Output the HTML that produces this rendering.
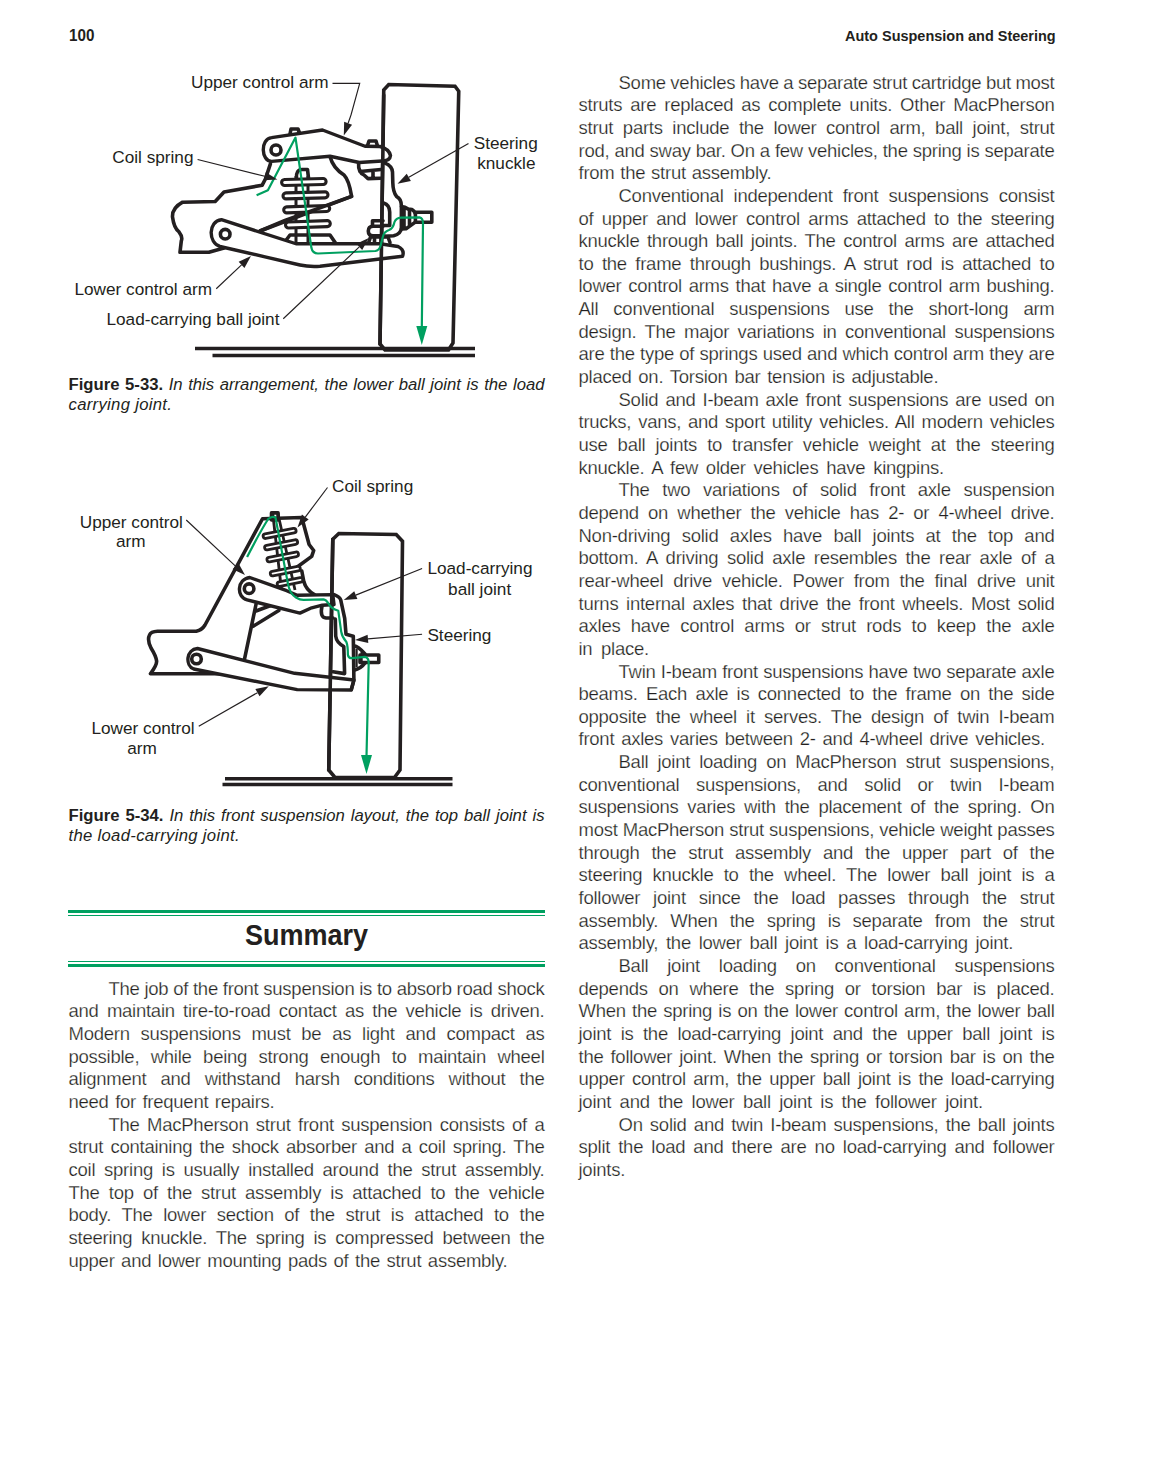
<!DOCTYPE html>
<html><head><meta charset="utf-8"><style>
html,body{margin:0;padding:0;background:#fff;}
body{width:1156px;height:1479px;position:relative;overflow:hidden;font-family:"Liberation Sans",sans-serif;color:#231f20;}
.ln{position:absolute;white-space:pre;font-size:18.5px;line-height:22.65px;letter-spacing:-0.25px;-webkit-text-stroke:0.25px #fff;}
.lab{position:absolute;white-space:pre;line-height:1;}
.cap2 i{letter-spacing:0.3px;}
.cap{position:absolute;white-space:pre;font-size:16.7px;line-height:20.8px;left:68.5px;width:476px;}
.hdr{position:absolute;font-weight:bold;white-space:pre;line-height:1;}
svg{position:absolute;left:0;top:0;}
.rule{position:absolute;left:68px;width:476.5px;background:#00a060;}
</style></head><body>
<div class="hdr" style="left:68.5px;top:28.35px;font-size:16px;transform-origin:0 0;transform:scaleX(0.95)">100</div>
<div class="hdr" style="left:845.3px;top:27.59px;font-size:15px;transform-origin:0 0;transform:scaleX(0.965)">Auto Suspension and Steering</div>
<svg width="1156" height="1479" viewBox="0 0 1156 1479">
<path d="M195,348.5 H475 M212.5,355.5 H475" stroke="#231f20" stroke-width="3.4"/><path d="M383.75,90 L388.75,84.5 L455,86.25 L458.75,91.25 L453,343 L448.5,350 L385,350 L380,344 Z" stroke="#231f20" stroke-width="3.6" fill="none" stroke-linejoin="miter"/><path d="M270.4,163.9 L265.4,179 L262.2,185.2 L224,192.1 L215.2,201.5 L182.6,202.2 Q172,208 172.5,217 Q174,228 178.8,231.6 Q183,237 181.3,241 L180,252.3 L208.9,252.3 L224,248" stroke="#231f20" stroke-width="3.6" fill="none" stroke-linejoin="round" stroke-linecap="round"/><path d="M330,156.5 Q333,168 344,175 Q349,180 351.6,196.4 L260,231" stroke="#231f20" stroke-width="3.6" fill="none" stroke-linejoin="round" stroke-linecap="round"/><path d="M296,176 V242 M308,176 V242" stroke="#231f20" stroke-width="3" fill="none"/><path d="M296.5,178 Q296,169.5 302,169.5 L307.5,169.5 L308.5,178" stroke="#231f20" stroke-width="3.6" fill="none" stroke-linejoin="round" stroke-linecap="round"/><rect x="281.6" y="179" width="44.5" height="6" rx="3" transform="rotate(-1.5 303.85 182)" stroke="#231f20" stroke-width="3.1" fill="#fff"/><rect x="283" y="192.4" width="45" height="6" rx="3" transform="rotate(-1.5 305.5 195.4)" stroke="#231f20" stroke-width="3.1" fill="#fff"/><rect x="283.7" y="206.2" width="46" height="6" rx="3" transform="rotate(-2 306.7 209.2)" stroke="#231f20" stroke-width="3.1" fill="#fff"/><rect x="285.5" y="221.3" width="44.8" height="6" rx="3" transform="rotate(-2 307.9 224.3)" stroke="#231f20" stroke-width="3.1" fill="#fff"/><path d="M284,243 L290,235 L330,235 L335.5,243" stroke="#231f20" stroke-width="3.6" fill="none" stroke-linejoin="round" stroke-linecap="round"/><path d="M351.6,196.4 L285,220.5 L260,231" stroke="#231f20" stroke-width="3.6" fill="none" stroke-linejoin="round" stroke-linecap="round"/><path d="M221.4,219.7 L296,243.75 L380,243.75 L398,246.5 Q405,250 402.5,256.25 L320,266.25 Q309,267 300,265 L220,246.5 C208,243 208,221 221.4,219.7 Z" stroke="#231f20" stroke-width="3.4" fill="#fff" stroke-linejoin="round"/><circle cx="225.2" cy="234.2" r="4.8" stroke="#231f20" stroke-width="3.6" fill="none" stroke-linejoin="round" stroke-linecap="round"/><path d="M372.5,226 L372.5,220.8 L383,220.8" stroke="#231f20" stroke-width="3.6" fill="none" stroke-linejoin="round" stroke-linecap="round"/><path d="M383,226.2 L373,226.2 Q368.3,226.5 368.3,231 Q368.3,235.7 373,235.7 L384,235.7" stroke="#231f20" stroke-width="3.6" fill="none" stroke-linejoin="round" stroke-linecap="round"/><path d="M368.7,242.5 L370.5,237 L388,237 L390,242.5 M374.5,237.5 V242 M381,237.5 V242" stroke="#231f20" stroke-width="3.6" fill="none" stroke-linejoin="round" stroke-linecap="round"/><path d="M385,163.2 Q392,166 392.5,172 L392.8,182.7 Q393,192 396.7,196.7 Q401.4,199 401.4,206.1 L401.4,228 Q401,234 393.6,235.7 L383.5,236.4" stroke="#231f20" stroke-width="3.6" fill="none" stroke-linejoin="round" stroke-linecap="round"/><path d="M383.5,203 Q389.7,205 389.7,212 L389.7,225.5 L383.5,225.5" stroke="#231f20" stroke-width="3.6" fill="none" stroke-linejoin="round" stroke-linecap="round"/><path d="M401.4,206.5 Q405,206.5 408,209 L412,209.5 Q414.5,211 415,213 M415,222.4 L406,228.7 L401.4,229 M404,207.5 V227 M409.5,210 V224.5" stroke="#231f20" stroke-width="3.6" fill="none" stroke-linejoin="round" stroke-linecap="round"/><rect x="415.4" y="212.3" width="16.4" height="10" stroke="#231f20" stroke-width="3.6" fill="none" stroke-linejoin="round" stroke-linecap="round"/><path d="M271.6,137.6 L322.5,130 L365,146.25 L380,146.5 Q389,149 390.5,155.5 Q390,161 382,161 L359.3,162.5 L330,156.25 L271.6,161.4 C261,161 260,139 271.6,137.6 Z" stroke="#231f20" stroke-width="3.4" fill="#fff" stroke-linejoin="round"/><circle cx="276" cy="150" r="5" stroke="#231f20" stroke-width="3.6" fill="none" stroke-linejoin="round" stroke-linecap="round"/><path d="M290,134 L291,129 L298,129 L299.5,133 M367.5,145.5 L369,141 L376,141 L377.5,146" stroke="#231f20" stroke-width="3.6" fill="none" stroke-linejoin="round" stroke-linecap="round"/><path d="M358.6,163 Q358,172 364,175 L368,178.6 L380.5,178.3 M360,171.5 L381,169.5 M373,172 V178" stroke="#231f20" stroke-width="3.6" fill="none" stroke-linejoin="round" stroke-linecap="round"/><path d="M383.75,95 L380,344" stroke="#231f20" stroke-width="3.6" fill="none" stroke-linejoin="round" stroke-linecap="round"/><path d="M256.6,195.3 L267.9,190.2 L295.5,137.6 L311.4,247.8 Q312.5,253.5 318,253.5 L375.4,251 Q379,250.5 380.5,246 L382.7,237.2 Q384,231.5 389,230 Q393,228.7 394.5,222 Q396,217.8 401,217.6 L419.5,217.3 Q423,218 423,223 L421.8,328" stroke="#00a060" stroke-width="2.2" fill="none" stroke-linejoin="round"/><path d="M421.8,345 L416.3,326 L427.3,326 Z" fill="#00a060"/><path d="M332.5,83.3 H359.7 L351,115" stroke="#231f20" stroke-width="1.15" fill="none"/><path d="M351,115 L348.11,123.23" stroke="#231f20" stroke-width="1.15" fill="none"/><path d="M343.8,135.5 L344.15,121.84 L352.07,124.63 Z" fill="#231f20"/><path d="M197.6,159.5 L264.79,176.25" stroke="#231f20" stroke-width="1.15" fill="none"/><path d="M277.4,179.4 L263.77,180.33 L265.80,172.18 Z" fill="#231f20"/><path d="M468.5,143.5 L408.81,177.34" stroke="#231f20" stroke-width="1.15" fill="none"/><path d="M397.5,183.75 L406.74,173.69 L410.88,180.99 Z" fill="#231f20"/><path d="M216.25,288.75 L241.54,264.92" stroke="#231f20" stroke-width="1.15" fill="none"/><path d="M251,256 L244.42,267.97 L238.66,261.86 Z" fill="#231f20"/><path d="M283.25,318.75 L359.30,246.93" stroke="#231f20" stroke-width="1.15" fill="none"/><path d="M368.75,238 L362.18,249.98 L356.42,243.87 Z" fill="#231f20"/>
<path d="M225,778.75 H452.5 M222.5,784.5 H452.5" stroke="#231f20" stroke-width="3.4"/><path d="M332.8,539.3 L338.8,533.5 L396.25,534.5 L402.5,541.25 L400,770 L394.5,777.5 L335,777.5 L328.75,770 Z" stroke="#231f20" stroke-width="3.6" fill="none" stroke-linejoin="miter"/><path d="M225,673.75 L150.4,673.75 Q157,665 156.6,661 Q156,656 151,648 Q147,640 149.5,635 Q151,631.5 157.5,631.25 L196.25,631.25 Q202,630 205,625 L262.5,518.75 L301.8,517.5 L309.1,544.5 L313.7,550.5 L311.7,556.4 L297.2,567" stroke="#231f20" stroke-width="3.6" fill="none" stroke-linejoin="round" stroke-linecap="round"/><path d="M301.8,571 L303.8,581.5 Q306,590 314.4,594.6" stroke="#231f20" stroke-width="3.6" fill="none" stroke-linejoin="round" stroke-linecap="round"/><path d="M272.8,514 L281.5,590 M278,514 L295,590" stroke="#231f20" stroke-width="2.8" fill="none"/><rect x="271.5" y="512.9" width="6.6" height="7" stroke="#231f20" stroke-width="3.6" fill="none" stroke-linejoin="round" stroke-linecap="round"/><rect x="262.85" y="531.10" width="33.5" height="4.6" rx="2.3" transform="rotate(-11 279.6 533.4)" stroke="#231f20" stroke-width="2.8" fill="#fff"/><rect x="264.35" y="542.50" width="33.5" height="4.6" rx="2.3" transform="rotate(-11 281.1 544.8)" stroke="#231f20" stroke-width="2.8" fill="#fff"/><rect x="266.70" y="554.60" width="32" height="4.6" rx="2.3" transform="rotate(-11 282.7 556.9)" stroke="#231f20" stroke-width="2.8" fill="#fff"/><rect x="270.05" y="568.80" width="30.5" height="4.6" rx="2.3" transform="rotate(-11 285.3 571.1)" stroke="#231f20" stroke-width="2.8" fill="#fff"/><rect x="277.00" y="579.70" width="26" height="4.6" rx="2.3" transform="rotate(-11 290 582)" stroke="#231f20" stroke-width="2.8" fill="#fff"/><path d="M244.5,659.2 L256.4,602.5 M253.1,626.3 L278.8,610.5 M256,611 L272,605" stroke="#231f20" stroke-width="3.6" fill="none" stroke-linejoin="round" stroke-linecap="round"/><path d="M197.5,648.5 L294.6,673.3 L353.9,680 L351.3,690 L297.2,689.6 L193.75,669 C185,665.5 186,649.5 197.5,648.5 Z" stroke="#231f20" stroke-width="3.4" fill="#fff" stroke-linejoin="round"/><circle cx="196.5" cy="659" r="4.8" stroke="#231f20" stroke-width="3.6" fill="none" stroke-linejoin="round" stroke-linecap="round"/><path d="M334.1,594.6 Q340,597 340.7,599.9 L344.7,618.4 L346,634.2 L353.3,636.2 L353.9,680.3 L351.3,689.5 M335.3,619 L335.7,636.1 Q336.5,642.5 343.8,646.5 L344.6,673.6 L333,671.8" stroke="#231f20" stroke-width="3.6" fill="none" stroke-linejoin="round" stroke-linecap="round"/><path d="M353.9,645.8 Q358.3,646.5 365,653.9 M365,662.9 Q361,668.5 353.9,670.3" stroke="#231f20" stroke-width="3.6" fill="none" stroke-linejoin="round" stroke-linecap="round"/><path d="M356.6,649 V667.3 M361.6,652 V663.6" stroke="#231f20" stroke-width="2.2" fill="none"/><rect x="360" y="655" width="18.75" height="7.5" stroke="#231f20" stroke-width="3.6" fill="none" stroke-linejoin="round" stroke-linecap="round"/><path d="M249.8,577.5 L286.7,590.7 L297.2,595.3 L332.8,594.6 L334,604.5 L322.3,605.2 L311.7,607.8 L299.9,613.1 L247.1,599.9 C236,597 237,579 249.8,577.5 Z" stroke="#231f20" stroke-width="3.4" fill="#fff" stroke-linejoin="round"/><circle cx="249.1" cy="588.7" r="4.8" stroke="#231f20" stroke-width="3.6" fill="none" stroke-linejoin="round" stroke-linecap="round"/><path d="M322,606 Q319.5,617.5 326,618 L333,618" stroke="#231f20" stroke-width="3.6" fill="none" stroke-linejoin="round" stroke-linecap="round"/><path d="M332.8,539.3 L328.75,770" stroke="#231f20" stroke-width="3.6" fill="none" stroke-linejoin="round" stroke-linecap="round"/><path d="M247.1,557.1 Q261,530 268.2,519 Q272,515.5 275.5,517.5 L288,584.1 Q290,594 296,597.5 Q300,600 303.8,599.9 L323.6,599.3 Q326,599.5 328.5,603.5 Q331,608.6 338.3,610.8 L341.2,631.6 Q342,637 346.4,642 Q347.9,646 347.9,654.7 Q348.5,658.4 352,658.2 L365,656.9 Q368.7,658 368.7,662.5 L366.5,756" stroke="#00a060" stroke-width="2.2" fill="none" stroke-linejoin="round"/><path d="M366.5,774 L361.0,755 L372.0,755 Z" fill="#00a060"/><path d="M327.5,487.5 L305.30,517.10" stroke="#231f20" stroke-width="1.15" fill="none"/><path d="M297.5,527.5 L301.94,514.58 L308.66,519.62 Z" fill="#231f20"/><path d="M186.25,520 L235.51,566.12" stroke="#231f20" stroke-width="1.15" fill="none"/><path d="M245,575 L232.64,569.18 L238.38,563.05 Z" fill="#231f20"/><path d="M422.1,568.5 L355.81,595.15" stroke="#231f20" stroke-width="1.15" fill="none"/><path d="M343.75,600 L354.24,591.25 L357.38,599.05 Z" fill="#231f20"/><path d="M422.1,634.3 L367.95,638.90" stroke="#231f20" stroke-width="1.15" fill="none"/><path d="M355,640 L367.60,634.71 L368.31,643.08 Z" fill="#231f20"/><path d="M198.75,726.25 L257.46,692.70" stroke="#231f20" stroke-width="1.15" fill="none"/><path d="M268.75,686.25 L259.55,696.35 L255.38,689.05 Z" fill="#231f20"/>
</svg>
<div class="lab" style="left:191px;top:74.43px;font-size:17.2px">Upper control arm</div><div class="lab" style="left:112.25px;top:148.93px;font-size:17.2px">Coil spring</div><div class="lab" style="left:74.5px;top:281.43px;font-size:17.2px">Lower control arm</div><div class="lab" style="left:106.5px;top:311.43px;font-size:17.2px">Load-carrying ball joint</div><div class="lab" style="left:473.7px;top:134.83px;font-size:17.2px">Steering</div><div class="lab" style="left:477.2px;top:155.13px;font-size:17.2px">knuckle</div><div class="lab" style="left:332px;top:477.68px;font-size:17.2px">Coil spring</div><div class="lab" style="left:79.75px;top:513.93px;font-size:17.2px">Upper control</div><div class="lab" style="left:116px;top:533.43px;font-size:17.2px">arm</div><div class="lab" style="left:427.4px;top:560.23px;font-size:17.2px">Load-carrying</div><div class="lab" style="left:448.1px;top:580.53px;font-size:17.2px">ball joint</div><div class="lab" style="left:427.4px;top:626.93px;font-size:17.2px">Steering</div><div class="lab" style="left:91.5px;top:719.68px;font-size:17.2px">Lower control</div><div class="lab" style="left:127.25px;top:739.68px;font-size:17.2px">arm</div>
<div class="cap" style="top:374.60px;text-align:justify;text-align-last:justify"><b>Figure 5-33.</b> <i>In this arrangement, the lower ball joint is the load</i></div>
<div class="cap cap2" style="top:395.40px"><i>carrying joint.</i></div>
<div class="cap" style="top:806.45px;text-align:justify;text-align-last:justify"><b>Figure 5-34.</b> <i>In this front suspension layout, the top ball joint is</i></div>
<div class="cap cap2" style="top:826.45px"><i>the load-carrying joint.</i></div>
<div class="rule" style="top:910px;height:3px"></div>
<div class="rule" style="top:915px;height:1.1px"></div>
<div class="rule" style="top:961px;height:1.1px"></div>
<div class="rule" style="top:964px;height:3px"></div>
<div class="hdr" style="left:244.5px;top:920.29px;font-size:30px;transform-origin:0 0;transform:scaleX(0.9)">Summary</div>
<div class="ln" style="left:618.5px;top:71.60px;word-spacing:-0.369px;">Some vehicles have a separate strut cartridge but most</div>
<div class="ln" style="left:578.5px;top:94.25px;word-spacing:3.127px;">struts are replaced as complete units. Other MacPherson</div>
<div class="ln" style="left:578.5px;top:116.90px;word-spacing:4.743px;">strut parts include the lower control arm, ball joint, strut</div>
<div class="ln" style="left:578.5px;top:139.55px;word-spacing:0.138px;">rod, and sway bar. On a few vehicles, the spring is separate</div>
<div class="ln" style="left:578.5px;top:162.20px;word-spacing:0.923px;">from the strut assembly.</div>
<div class="ln" style="left:618.5px;top:184.85px;word-spacing:5.164px;">Conventional independent front suspensions consist</div>
<div class="ln" style="left:578.5px;top:207.50px;word-spacing:3.483px;">of upper and lower control arms attached to the steering</div>
<div class="ln" style="left:578.5px;top:230.15px;word-spacing:2.611px;">knuckle through ball joints. The control arms are attached</div>
<div class="ln" style="left:578.5px;top:252.80px;word-spacing:3.569px;">to the frame through bushings. A strut rod is attached to</div>
<div class="ln" style="left:578.5px;top:275.45px;word-spacing:1.828px;">lower control arms that have a single control arm bushing.</div>
<div class="ln" style="left:578.5px;top:298.10px;word-spacing:10.159px;">All conventional suspensions use the short-long arm</div>
<div class="ln" style="left:578.5px;top:320.75px;word-spacing:3.565px;">design. The major variations in conventional suspensions</div>
<div class="ln" style="left:578.5px;top:343.40px;word-spacing:0.395px;">are the type of springs used and which control arm they are</div>
<div class="ln" style="left:578.5px;top:366.05px;word-spacing:1.904px;">placed on. Torsion bar tension is adjustable.</div>
<div class="ln" style="left:618.5px;top:388.70px;word-spacing:2.102px;">Solid and I-beam axle front suspensions are used on</div>
<div class="ln" style="left:578.5px;top:411.35px;word-spacing:2.025px;">trucks, vans, and sport utility vehicles. All modern vehicles</div>
<div class="ln" style="left:578.5px;top:434.00px;word-spacing:5.139px;">use ball joints to transfer vehicle weight at the steering</div>
<div class="ln" style="left:578.5px;top:456.65px;word-spacing:2.916px;">knuckle. A few older vehicles have kingpins.</div>
<div class="ln" style="left:618.5px;top:479.30px;word-spacing:7.770px;">The two variations of solid front axle suspension</div>
<div class="ln" style="left:578.5px;top:501.95px;word-spacing:4.339px;">depend on whether the vehicle has 2- or 4-wheel drive.</div>
<div class="ln" style="left:578.5px;top:524.60px;word-spacing:6.424px;">Non-driving solid axles have ball joints at the top and</div>
<div class="ln" style="left:578.5px;top:547.25px;word-spacing:3.675px;">bottom. A driving solid axle resembles the rear axle of a</div>
<div class="ln" style="left:578.5px;top:569.90px;word-spacing:4.986px;">rear-wheel drive vehicle. Power from the final drive unit</div>
<div class="ln" style="left:578.5px;top:592.55px;word-spacing:2.799px;">turns internal axles that drive the front wheels. Most solid</div>
<div class="ln" style="left:578.5px;top:615.20px;word-spacing:5.453px;">axles have control arms or strut rods to keep the axle</div>
<div class="ln" style="left:578.5px;top:637.85px;word-spacing:3.744px;">in place.</div>
<div class="ln" style="left:618.5px;top:660.50px;word-spacing:0.386px;">Twin I-beam front suspensions have two separate axle</div>
<div class="ln" style="left:578.5px;top:683.15px;word-spacing:3.392px;">beams. Each axle is connected to the frame on the side</div>
<div class="ln" style="left:578.5px;top:705.80px;word-spacing:4.293px;">opposite the wheel it serves. The design of twin I-beam</div>
<div class="ln" style="left:578.5px;top:728.45px;word-spacing:1.982px;">front axles varies between 2- and 4-wheel drive vehicles.</div>
<div class="ln" style="left:618.5px;top:751.10px;word-spacing:4.177px;">Ball joint loading on MacPherson strut suspensions,</div>
<div class="ln" style="left:578.5px;top:773.75px;word-spacing:11.659px;">conventional suspensions, and solid or twin I-beam</div>
<div class="ln" style="left:578.5px;top:796.40px;word-spacing:3.889px;">suspensions varies with the placement of the spring. On</div>
<div class="ln" style="left:578.5px;top:819.05px;word-spacing:0.260px;">most MacPherson strut suspensions, vehicle weight passes</div>
<div class="ln" style="left:578.5px;top:841.70px;word-spacing:7.026px;">through the strut assembly and the upper part of the</div>
<div class="ln" style="left:578.5px;top:864.35px;word-spacing:5.330px;">steering knuckle to the wheel. The lower ball joint is a</div>
<div class="ln" style="left:578.5px;top:887.00px;word-spacing:7.969px;">follower joint since the load passes through the strut</div>
<div class="ln" style="left:578.5px;top:909.65px;word-spacing:7.186px;">assembly. When the spring is separate from the strut</div>
<div class="ln" style="left:578.5px;top:932.30px;word-spacing:2.905px;">assembly, the lower ball joint is a load-carrying joint.</div>
<div class="ln" style="left:618.5px;top:954.95px;word-spacing:14.009px;">Ball joint loading on conventional suspensions</div>
<div class="ln" style="left:578.5px;top:977.60px;word-spacing:5.911px;">depends on where the spring or torsion bar is placed.</div>
<div class="ln" style="left:578.5px;top:1000.25px;word-spacing:1.332px;">When the spring is on the lower control arm, the lower ball</div>
<div class="ln" style="left:578.5px;top:1022.90px;word-spacing:4.570px;">joint is the load-carrying joint and the upper ball joint is</div>
<div class="ln" style="left:578.5px;top:1045.55px;word-spacing:2.101px;">the follower joint. When the spring or torsion bar is on the</div>
<div class="ln" style="left:578.5px;top:1068.20px;word-spacing:2.568px;">upper control arm, the upper ball joint is the load-carrying</div>
<div class="ln" style="left:578.5px;top:1090.85px;word-spacing:3.545px;">joint and the lower ball joint is the follower joint.</div>
<div class="ln" style="left:618.5px;top:1113.50px;word-spacing:2.297px;">On solid and twin I-beam suspensions, the ball joints</div>
<div class="ln" style="left:578.5px;top:1136.15px;word-spacing:3.193px;">split the load and there are no load-carrying and follower</div>
<div class="ln" style="left:578.5px;top:1158.80px;">joints.</div>
<div class="ln" style="left:108.5px;top:977.80px;word-spacing:-0.069px;">The job of the front suspension is to absorb road shock</div>
<div class="ln" style="left:68.5px;top:1000.45px;word-spacing:3.373px;">and maintain tire-to-road contact as the vehicle is driven.</div>
<div class="ln" style="left:68.5px;top:1023.10px;word-spacing:5.918px;">Modern suspensions must be as light and compact as</div>
<div class="ln" style="left:68.5px;top:1045.75px;word-spacing:6.569px;">possible, while being strong enough to maintain wheel</div>
<div class="ln" style="left:68.5px;top:1068.40px;word-spacing:9.167px;">alignment and withstand harsh conditions without the</div>
<div class="ln" style="left:68.5px;top:1091.05px;word-spacing:1.583px;">need for frequent repairs.</div>
<div class="ln" style="left:108.5px;top:1113.70px;word-spacing:2.556px;">The MacPherson strut front suspension consists of a</div>
<div class="ln" style="left:68.5px;top:1136.35px;word-spacing:2.318px;">strut containing the shock absorber and a coil spring. The</div>
<div class="ln" style="left:68.5px;top:1159.00px;word-spacing:3.932px;">coil spring is usually installed around the strut assembly.</div>
<div class="ln" style="left:68.5px;top:1181.65px;word-spacing:4.267px;">The top of the strut assembly is attached to the vehicle</div>
<div class="ln" style="left:68.5px;top:1204.30px;word-spacing:5.748px;">body. The lower section of the strut is attached to the</div>
<div class="ln" style="left:68.5px;top:1226.95px;word-spacing:4.016px;">steering knuckle. The spring is compressed between the</div>
<div class="ln" style="left:68.5px;top:1249.60px;word-spacing:1.654px;">upper and lower mounting pads of the strut assembly.</div>
</body></html>
